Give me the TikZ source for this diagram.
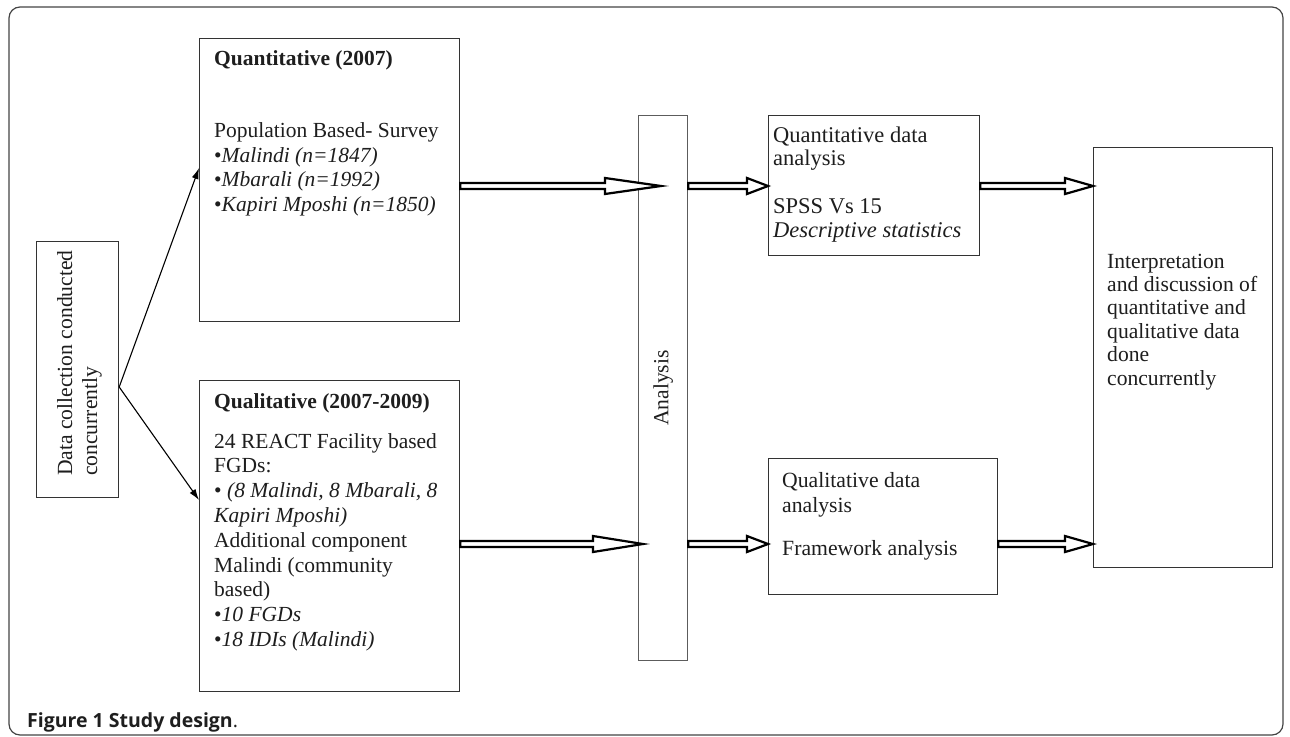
\documentclass[tikz,border=0pt]{standalone}
\usepackage{fontspec}
\setmainfont{Liberation Serif}
\newfontfamily\capfont{Open Sans}
\usetikzlibrary{arrows.meta,calc}
\definecolor{boxcol}{HTML}{333333}
\definecolor{framecol}{HTML}{444444}
\definecolor{txtcol}{HTML}{1E1E1E}
\newcommand\tnr[2]{\fontsize{#1}{#2}\selectfont}
\newcommand\fatarrow[3]{\draw[fatarrow] ($(#1)+(0,-3)$) -- ($(#2)+(-#3,-3)$) -- ($(#2)+(-#3,-8)$) -- (#2) -- ($(#2)+(-#3,8)$) -- ($(#2)+(-#3,3)$) -- ($(#1)+(0,3)$) -- cycle;}
\begin{document}
\begin{tikzpicture}[x=1pt,y=-1pt,
  box/.style={draw=boxcol,line width=1.2pt,inner sep=0pt,anchor=north west},
  txt/.style={anchor=base west,inner sep=0pt,align=left,text=txtcol},
  fatarrow/.style={draw=black,fill=white,line width=2.2pt,line join=miter},
  thinarrow/.style={draw=black,line width=1.1pt,-{Latex[length=11pt,width=7pt]}}]
\useasboundingbox (0,0) rectangle (1290,736);
\fill[white] (0,0) rectangle (1290,736);
\draw[framecol,line width=1.2pt,rounded corners=11pt] (9,7) rectangle (1283,735);

% boxes
\node[box,minimum width=82pt,minimum height=256pt] (dc) at (36,241) {};
\node[box,minimum width=260pt,minimum height=283pt] (qt) at (199,38) {};
\node[box,minimum width=260pt,minimum height=311pt] (ql) at (199,380) {};
\node[box,draw=boxcol!80,minimum width=49pt,minimum height=545pt] (an) at (638,115) {};
\node[box,minimum width=211pt,minimum height=140pt] (qd) at (768,115) {};
\node[box,minimum width=229pt,minimum height=136pt] (qld) at (768,458) {};
\node[box,minimum width=179pt,minimum height=420pt] (ip) at (1093,147) {};

% texts (base anchor = baseline of the last line)
\node[txt,rotate=90,anchor=north west,font=\tnr{21.6}{25}] (dct) at (57,476) {Data collection conducted\\concurrently};
\node[txt,font=\tnr{21.5}{24.8}] (qtt) at (214,211.7) {\textbf{Quantitative (2007)}\\[47.5pt]Population Based- Survey\\•\textit{Malindi (n=1847)}\\•\textit{Mbarali (n=1992)}\\•\textit{Kapiri Mposhi (n=1850)}};
\node[txt,font=\tnr{21.5}{24.8}] (qlt) at (214,646.4) {\textbf{Qualitative (2007-2009)}\\[15.2pt]24 REACT Facility based\\FGDs:\\• \textit{(8 Malindi, 8 Mbarali, 8}\\\textit{Kapiri Mposhi)}\\Additional component\\Malindi (community\\based)\\•\textit{10 FGDs}\\•\textit{18 IDIs (Malindi)}};
\node[rotate=90,inner sep=0pt,text=txtcol,font=\tnr{21.6}{25}] (ant) at (an.center) {Analysis};
\node[txt,font=\tnr{22.5}{23.7}] (qdt) at (773,237.1) {Quantitative data\\analysis\\[24pt]SPSS Vs 15\\\textit{Descriptive statistics}};
\node[txt,font=\tnr{21.7}{25}] (qldt) at (782,555) {Qualitative data\\analysis\\[18pt]Framework analysis};
\node[txt,font=\tnr{21.6}{23.4}] (ipt) at (1107,385) {Interpretation\\and discussion of\\quantitative and\\qualitative data\\done\\concurrently};

% caption
\node[anchor=base west,inner sep=0pt,text=txtcol,font=\capfont\fontsize{19.5}{22}\selectfont] (cap) at (27,727) {\textbf{Figure 1 Study design}.};

% thin arrows
\coordinate (y0) at (0,387);
\coordinate (yA) at (0,168);
\coordinate (yB) at (0,500);
\draw[thinarrow] (dc.east |- y0) -- (qt.west |- yA);
\draw[thinarrow] (dc.east |- y0) -- (ql.west |- yB);

% fat arrows
\coordinate (y1) at (0,186);
\coordinate (y2) at (0,544);
\coordinate (a1s) at (qt.east |- y1);
\coordinate (a1e) at ($(an.west |- y1)+(23,0)$);
\coordinate (a2s) at (an.east |- y1);
\coordinate (a2e) at (qd.west |- y1);
\coordinate (a3s) at (qd.east |- y1);
\coordinate (a3e) at (ip.west |- y1);
\coordinate (a4s) at (ql.east |- y2);
\coordinate (a4e) at ($(an.west |- y2)+(5,0)$);
\coordinate (a5s) at (an.east |- y2);
\coordinate (a5e) at (qld.west |- y2);
\coordinate (a6s) at (qld.east |- y2);
\coordinate (a6e) at (ip.west |- y2);
\fatarrow{a1s}{a1e}{56}
\fatarrow{a2s}{a2e}{21}
\fatarrow{a3s}{a3e}{28}
\fatarrow{a4s}{a4e}{50}
\fatarrow{a5s}{a5e}{21}
\fatarrow{a6s}{a6e}{28}
\end{tikzpicture}
\end{document}
